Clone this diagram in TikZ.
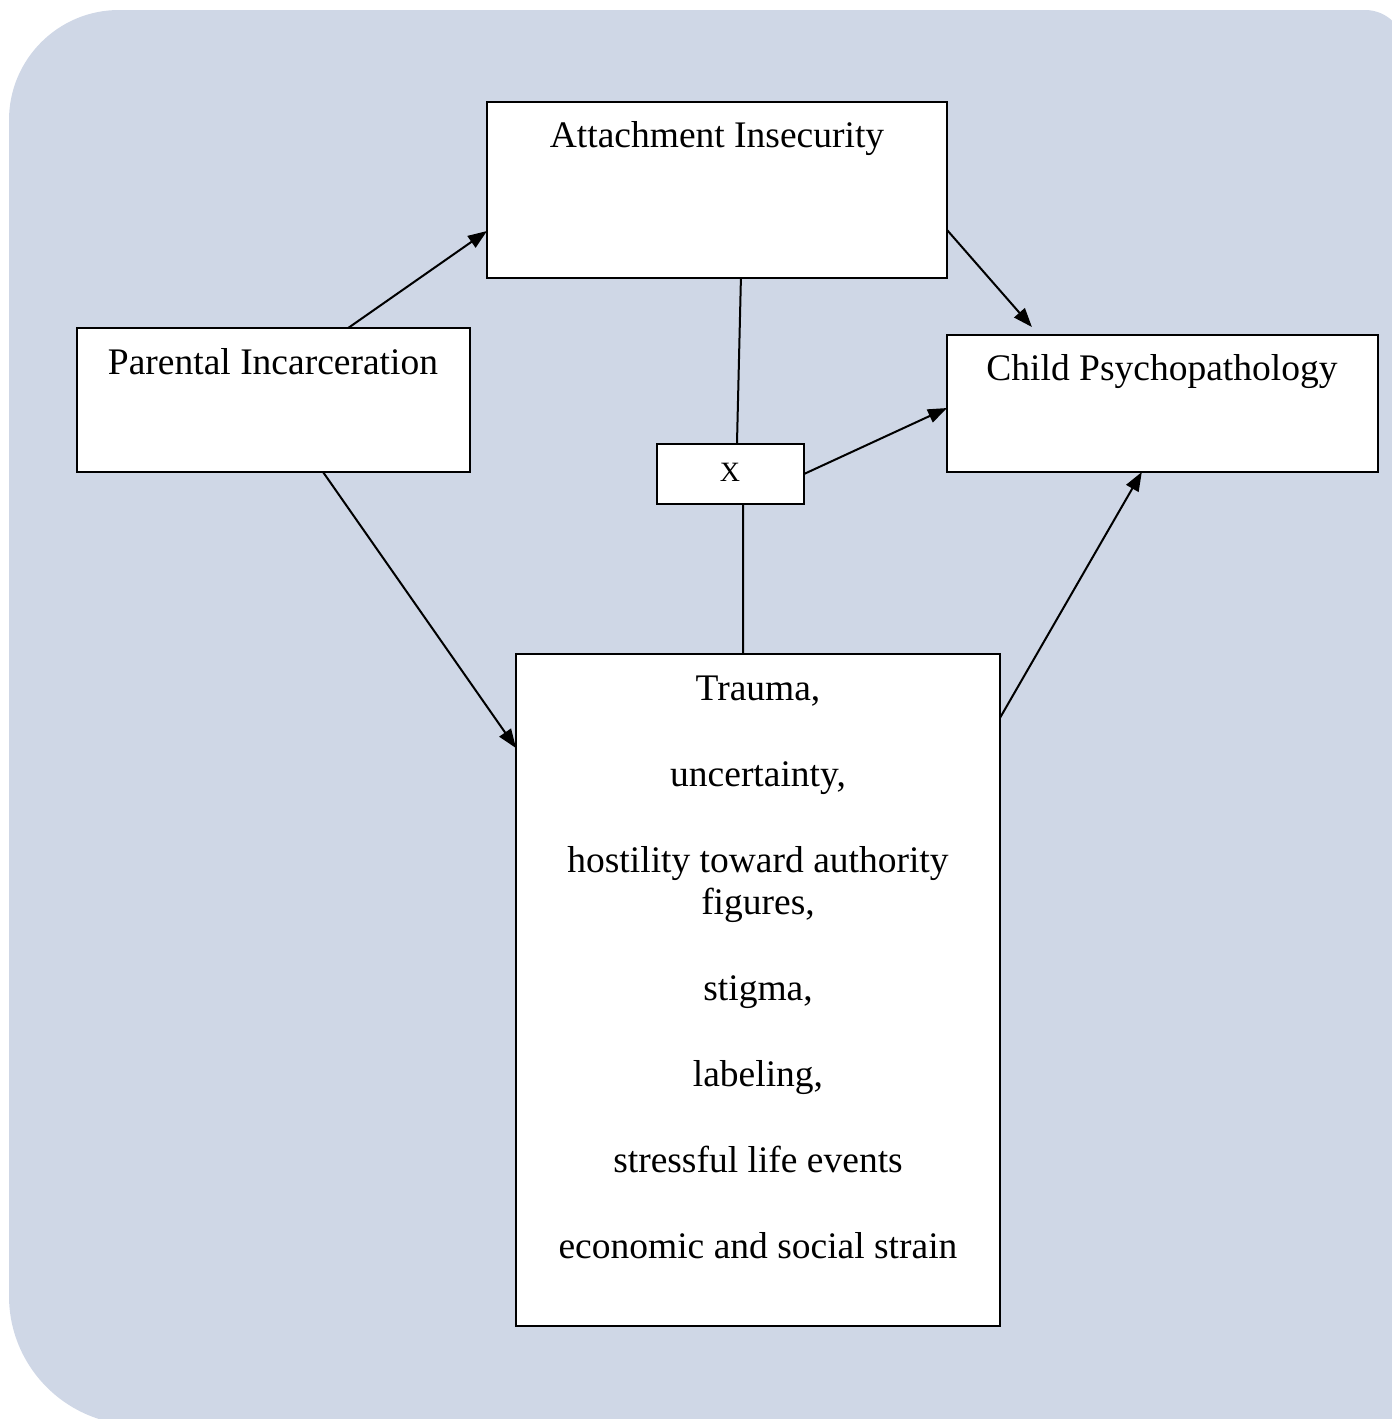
\documentclass[tikz,border=0pt]{standalone}
\usepackage{fontspec}
\setmainfont{Liberation Serif}
\usetikzlibrary{arrows.meta,calc}
\definecolor{bgc}{RGB}{207,215,230}
\tikzset{
  box/.style={draw=black, fill=white, line width=2pt, rectangle, outer sep=0pt, inner sep=0pt, anchor=north west},
  lbl/.style={inner sep=0pt, anchor=base, font=\fontsize{37.5}{43}\selectfont},
  xlbl/.style={inner sep=0pt, anchor=base, font=\fontsize{28}{32}\selectfont},
  ln/.style={line width=2pt, black},
  arr/.style={line width=2pt, black, -{Triangle[length=19pt,width=14pt]}}
}
\begin{document}
\begin{tikzpicture}[x=1pt,y=-1pt]
\useasboundingbox (0,0) rectangle (1392,1419);
% background panel
\fill[bgc] (9,1296) -- (9,120) arc[start angle=180,end angle=270,radius=110]
  -- (1365,10) arc[start angle=270,end angle=360,radius=40]
  -- (1405,1425) -- (138,1425) arc[start angle=90,end angle=180,radius=129] -- cycle;
% boxes
\node[box, minimum width=460pt, minimum height=176pt] (att) at (487,102) {};
\node[box, minimum width=393pt, minimum height=144pt] (par) at (77,328) {};
\node[box, minimum width=431pt, minimum height=137pt] (chi) at (947,335) {};
\node[box, minimum width=147pt, minimum height=60pt] (xb) at (657,444) {};
\node[box, minimum width=484pt, minimum height=672pt] (tr) at (516,654) {};
% labels
\node[lbl] (att-t) at (717,147) {Attachment Insecurity};
\node[lbl] (par-t) at (273,374) {Parental Incarceration};
\node[lbl] (chi-t) at (1162,380) {Child Psychopathology};
\node[xlbl] (xb-t) at (730,481) {X};
\node[lbl] (tr-1) at (758,700) {Trauma,};
\node[lbl] (tr-2) at (758,786) {uncertainty,};
\node[lbl] (tr-3) at (758,872) {hostility toward authority};
\node[lbl] (tr-4) at (758,914) {figures,};
\node[lbl] (tr-5) at (758,1000) {stigma,};
\node[lbl] (tr-6) at (758,1086) {labeling,};
\node[lbl] (tr-7) at (758,1172) {stressful life events};
\node[lbl] (tr-8) at (758,1258) {economic and social strain};
% connectors
\draw[arr] ($(par.north west)!0.69!(par.north east)$) -- ($(att.north west)!0.733!(att.south west)$);
\draw[arr] ($(att.north east)!0.727!(att.south east)$) -- ($(chi.north west)!0.197!(chi.north east)+(0,-8)$);
\draw[ln] ($(att.south west)!0.552!(att.south east)$) -- ($(xb.north west)!0.544!(xb.north east)$);
\draw[arr] (xb.east) -- ($(chi.north west)!0.533!(chi.south west)$);
\draw[ln] ($(xb.south west)!0.585!(xb.south east)$) -- ($(tr.north west)!0.469!(tr.north east)$);
\draw[arr] ($(par.south west)!0.626!(par.south east)$) -- ($(tr.north west)!0.14!(tr.south west)$);
\draw[arr] ($(tr.north east)!0.095!(tr.south east)$) -- ($(chi.south west)!0.452!(chi.south east)$);
\end{tikzpicture}
\end{document}
